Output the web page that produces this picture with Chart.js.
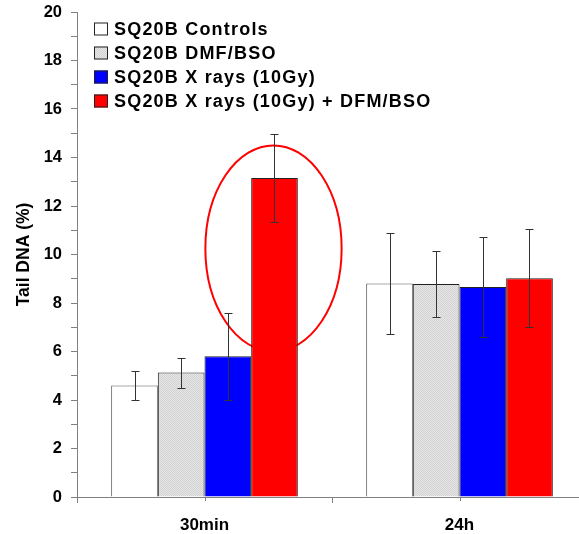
<!DOCTYPE html>
<html>
<head>
<meta charset="utf-8">
<script src="https://cdn.jsdelivr.net/npm/chart.js@4/dist/chart.umd.min.js"></script>
<style>
html,body{margin:0;padding:0;background:#fff;overflow:hidden;}
#wrap{width:579px;height:534px;overflow:hidden;position:relative;}
canvas{display:block;}
</style>
</head>
<body>
<div id="wrap"><canvas id="c" width="587" height="534"></canvas></div>
<script>
// ---- data ----
const categories = ['30min', '24h'];
const seriesLabels = ['SQ20B Controls', 'SQ20B DMF/BSO', 'SQ20B X rays (10Gy)', 'SQ20B X rays (10Gy) + DFM/BSO'];
const controlsVals = [4.6, 8.8];
const controlsErr  = [0.6, 2.07];
const dmfVals      = [5.13, 8.78];
const dmfErr       = [0.62, 1.37];
const xrayVals     = [5.8, 8.66];
const xrayErr      = [1.8, 2.05];
const xrayDfmVals  = [13.15, 9.02];
const xrayDfmErr   = [1.8, 2.03];
const yTicksMax = 20;
// highlighted region (annotation) around the 30min combined-treatment bar, in data units
const ellipseCenter = 10.25;
const ellipseHalfHeight = 4.25;

// light gray dotted pattern
function makePattern() {
  const p = document.createElement('canvas');
  p.width = 2; p.height = 2;
  const g = p.getContext('2d');
  g.fillStyle = '#e6e6e6'; g.fillRect(0, 0, 2, 2);
  g.fillStyle = '#d2d2d2'; g.fillRect(0, 0, 1, 1); g.fillRect(1, 1, 1, 1);
  return document.getElementById('c').getContext('2d').createPattern(p, 'repeat');
}
const grayPattern = makePattern();

const FONT = "'Liberation Sans', Arial, sans-serif";
const colors = ['#ffffff', grayPattern, '#0000ff', '#ff0000'];
const borders = ['#555555', '#222222', '#222222', '#222222'];
const vals = [controlsVals, dmfVals, xrayVals, xrayDfmVals];
const errs = [controlsErr, dmfErr, xrayErr, xrayDfmErr];

const datasets = seriesLabels.map((lab, i) => ({
  label: lab,
  data: vals[i],
  errors: errs[i],
  backgroundColor: colors[i],
  borderColor: borders[i],
  borderWidth: 1,
  borderSkipped: 'bottom',
  categoryPercentage: 0.732,
  barPercentage: 1.0
}));

const errorBarPlugin = {
  id: 'errbars',
  afterDatasetsDraw(chart) {
    const ctx = chart.ctx, ys = chart.scales.y;
    ctx.save();
    ctx.strokeStyle = '#333333';
    ctx.lineWidth = 1;
    chart.data.datasets.forEach((ds, di) => {
      const meta = chart.getDatasetMeta(di);
      meta.data.forEach((el, j) => {
        const v = ds.data[j], e = ds.errors[j];
        const x = Math.round(el.x) + 0.5;
        const yt = Math.round(ys.getPixelForValue(v + e)) + 0.5;
        const yb = Math.round(ys.getPixelForValue(v - e)) + 0.5;
        ctx.beginPath();
        ctx.moveTo(x, yt); ctx.lineTo(x, yb);
        ctx.moveTo(x - 4, yt); ctx.lineTo(x + 4, yt);
        ctx.moveTo(x - 4, yb); ctx.lineTo(x + 4, yb);
        ctx.stroke();
      });
    });
    ctx.restore();
  }
};

const ellipsePlugin = {
  id: 'ellipse',
  beforeDatasetsDraw(chart) {
    const ctx = chart.ctx, ys = chart.scales.y;
    const el = chart.getDatasetMeta(3).data[0];
    const cx = el.x - 1;
    const cy = ys.getPixelForValue(ellipseCenter);
    const ry = Math.abs(ys.getPixelForValue(ellipseCenter + ellipseHalfHeight) - cy);
    const rx = el.width * 1.46;
    ctx.save();
    ctx.strokeStyle = '#ff0000';
    ctx.lineWidth = 2;
    ctx.beginPath();
    ctx.ellipse(cx, cy, rx, ry, 0, 0, Math.PI * 2);
    ctx.stroke();
    ctx.restore();
  }
};

const centerTickPlugin = {
  id: 'centerTicks',
  afterDraw(chart) {
    const ctx = chart.ctx, xs = chart.scales.x, ca = chart.chartArea;
    ctx.save();
    ctx.strokeStyle = '#808080';
    ctx.lineWidth = 1;
    categories.forEach((c, i) => {
      const x = Math.round(xs.getPixelForValue(i)) + 0.5;
      ctx.beginPath();
      ctx.moveTo(x, ca.bottom);
      ctx.lineTo(x, ca.bottom + 4);
      ctx.stroke();
    });
    ctx.restore();
  }
};

const legendPlugin = {
  id: 'customLegend',
  afterDraw(chart) {
    const ctx = chart.ctx, ca = chart.chartArea;
    ctx.save();
    ctx.font = 'bold 18px ' + FONT;
    ctx.letterSpacing = '1.2px';
    ctx.textBaseline = 'middle';
    chart.data.datasets.forEach((ds, i) => {
      const cy = ca.top + 17.5 + i * 24;
      const bx = ca.left + 17;
      ctx.fillStyle = ds.backgroundColor;
      ctx.fillRect(bx, cy - 7, 14, 13);
      ctx.strokeStyle = '#222';
      ctx.lineWidth = 1;
      ctx.strokeRect(bx + 0.5, cy - 6.5, 13, 12);
      ctx.fillStyle = '#000';
      ctx.fillText(ds.label, bx + 20, cy + 1);
    });
    ctx.restore();
  }
};

new Chart(document.getElementById('c'), {
  type: 'bar',
  data: { labels: categories, datasets },
  plugins: [ellipsePlugin, errorBarPlugin, centerTickPlugin, legendPlugin],
  options: {
    responsive: false,
    animation: false,
    layout: { padding: { top: 12, right: 0, left: 0, bottom: 0 } },
    plugins: { legend: { display: false }, tooltip: { enabled: false } },
    scales: {
      x: {
        offset: true,
        grid: { offset: true, drawOnChartArea: false, tickLength: 6, color: '#808080' },
        border: { color: '#808080', width: 1 },
        ticks: { color: '#000', font: { family: FONT, size: 17, weight: 'bold' }, padding: 12 },
        afterFit(s) { s.height = 37; s.paddingLeft = 0; s.paddingRight = 0; }
      },
      y: {
        min: 0, max: yTicksMax,
        grid: { drawOnChartArea: false, tickLength: 6, color: '#808080' },
        border: { color: '#808080', width: 1 },
        ticks: {
          stepSize: 1,
          autoSkip: false,
          color: '#000',
          padding: 9,
          font: { family: FONT, size: 16.5, weight: 'bold' },
          callback: v => (v % 2 === 0 ? String(v) : '')
        },
        title: {
          display: true,
          text: 'Tail DNA (%)',
          color: '#000',
          font: { family: FONT, size: 17.5, weight: 'bold' },
          padding: { top: 14, bottom: 0 }
        },
        afterFit(s) { s.width = 77; s.paddingTop = 0; s.paddingBottom = 0; }
      }
    }
  }
});
</script>
</body>
</html>
